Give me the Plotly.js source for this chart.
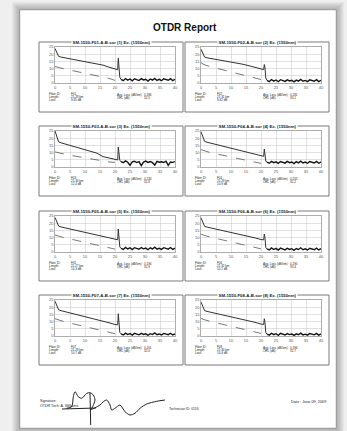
<!DOCTYPE html>
<html><head><meta charset="utf-8">
<script src="https://cdn.plot.ly/plotly-3.0.1.min.js"></script>
<style>html,body{margin:0;padding:0;background:#f0f0f0}#chart{width:347px;height:431px}</style>
</head><body><div id="chart"></div>
<script>
const W = 347, H = 431;

// ---------- data ----------
const panelTitles = [
  "SM-1550-F01-A-B.sor (1) Ex. (1550nm)",
  "SM-1550-F02-A-B.sor (2) Ex. (1550nm)",
  "SM-1550-F03-A-B.sor (3) Ex. (1550nm)",
  "SM-1550-F04-A-B.sor (4) Ex. (1550nm)",
  "SM-1550-F05-A-B.sor (5) Ex. (1550nm)",
  "SM-1550-F06-A-B.sor (6) Ex. (1550nm)",
  "SM-1550-F07-A-B.sor (7) Ex. (1550nm)",
  "SM-1550-F08-A-B.sor (8) Ex. (1550nm)"
];
const xTicks = [0, 5, 10, 15, 20, 25, 30, 35, 40];
const yTicks = [0, 5, 10, 15, 20, 25];

const mainKm = [0, 0.4, 1.2, 2, 4, 6, 8, 10, 12, 14, 16, 18, 20, 20.9, 21.1, 21.3, 21.6, 22];
const mainDb1 = [24, 22, 18.5, 18, 17.2, 16.5, 15.8, 15, 14.3, 13.6, 12.4, 11, 9.5, 9.2, 17.2, 12, 4, 2.5];
const mainDb2 = [23.5, 21.5, 18, 17.5, 16.8, 16, 15.3, 14.6, 13.8, 13, 12, 10.8, 9.6, 9.3, 12.8, 11, 3.5, 1.8];
const mainDb3 = [25, 22, 17.5, 16.8, 15.6, 14.4, 13.2, 12, 10.8, 9.6, 7.2, 6.2, 5.2, 4.9, 13.9, 9, 4.5, 3.8];
const mainDb4 = [24.5, 21.8, 17.8, 17.2, 16.2, 15.2, 14.2, 13.2, 12.2, 11.2, 10.2, 9, 7.8, 7.4, 12.5, 10, 4, 3.4];
const mainDb5 = [24, 21.8, 18, 17.4, 16.5, 15.6, 14.7, 13.8, 12.9, 12, 11, 10, 8.8, 8.5, 16, 11, 3.5, 2.6];
const mainDb6 = [23.8, 21.6, 17.8, 17.3, 16.4, 15.5, 14.6, 13.7, 12.8, 11.9, 10.9, 9.8, 8.7, 8.4, 12.5, 10.5, 3, 2.2];
const mainDb7 = [24.2, 22, 18.2, 17.6, 16.6, 15.6, 14.6, 13.6, 12.6, 11.6, 10.4, 9.2, 8, 7.7, 15.5, 10, 2.5, 1.5];
const mainDb8 = [23.6, 21.5, 17.6, 17.1, 16.2, 15.3, 14.4, 13.5, 12.6, 11.7, 10.6, 9.5, 8.3, 8, 12, 10, 2.2, 1.3];

const lowKm = [0, 1, 3, 6, 9, 12, 15, 18, 20];
const lowDb1 = [11.5, 10.8, 9.8, 8.5, 7.2, 5.9, 4.6, 3.2, 1.8];
const lowDb2 = [14, 12.8, 11.4, 9.8, 8.2, 6.6, 4.9, 3.4, 2.4];
const lowDb3 = [10.5, 9.9, 9, 7.8, 6.6, 5.4, 4.2, 3.5, 3.2];
const lowDb4 = [12, 11.2, 10.1, 8.7, 7.3, 5.9, 4.5, 3.3, 2.5];
const lowDb5 = [11.8, 11, 9.9, 8.6, 7.2, 5.8, 4.4, 3, 2];
const lowDb6 = [12.5, 11.6, 10.4, 9, 7.5, 6, 4.6, 3.2, 2.2];
const lowDb7 = [12, 11.2, 10, 8.5, 7, 5.5, 4, 2.6, 1.6];
const lowDb8 = [12.3, 11.4, 10.2, 8.7, 7.2, 5.7, 4.2, 2.8, 1.8];

const noiseKm = [22, 22.75, 23.5, 24.25, 25, 25.75, 26.5, 27.25, 28, 28.75, 29.5, 30.25, 31, 31.75, 32.5, 33.25, 34, 34.75, 35.5, 36.25, 37, 37.75, 38.5, 39.25, 40];
const noiseDb1 = [2.5, 1.6, 3.1, 2.0, 2.8, 1.5, 2.9, 2.2, 1.7, 3.0, 2.1, 2.6, 1.4, 2.8, 2.0, 3.2, 1.8, 2.5, 1.6, 2.9, 2.2, 1.9, 3.0, 1.7, 2.6];
const noiseDb2 = [1.8, 1.0, 2.4, 1.3, 2.1, 0.9, 2.3, 1.5, 1.1, 2.2, 1.4, 1.9, 0.8, 2.0, 1.3, 2.5, 1.2, 1.8, 1.0, 2.2, 1.5, 1.2, 2.3, 1.0, 1.9];
const noiseDb3 = [3.8, 3.0, 4.2, 3.3, 1.2, 3.6, 4.0, 3.1, 3.7, 1.0, 3.4, 4.1, 3.2, 3.8, 3.0, 1.3, 3.9, 3.3, 3.6, 3.1, 4.0, 1.1, 3.5, 3.2, 3.8];
const noiseDb4 = [3.4, 2.6, 3.9, 3.0, 3.6, 2.5, 3.8, 3.1, 2.7, 3.9, 3.0, 3.5, 2.4, 3.7, 2.9, 4.0, 2.8, 3.4, 2.6, 3.8, 3.1, 2.8, 3.9, 2.6, 3.5];
const noiseDb5 = [2.6, 1.8, 3.2, 2.1, 2.9, 1.7, 3.0, 2.3, 1.9, 3.1, 2.2, 2.7, 1.6, 2.9, 2.1, 3.3, 2.0, 2.6, 1.8, 3.0, 2.3, 2.0, 3.1, 1.8, 2.7];
const noiseDb6 = [2.2, 1.4, 2.8, 1.7, 2.5, 1.3, 2.7, 1.9, 1.5, 2.6, 1.8, 2.3, 1.2, 2.4, 1.7, 2.9, 1.6, 2.2, 1.4, 2.6, 1.9, 1.6, 2.7, 1.4, 2.3];
const noiseDb7 = [1.4, 0.7, 2.0, 1.0, 1.7, 0.6, 1.9, 1.2, 0.8, 1.8, 1.1, 1.5, 0.5, 1.6, 1.0, 2.1, 0.9, 1.4, 0.7, 1.8, 1.2, 0.9, 1.9, 0.7, 1.5];
const noiseDb8 = [1.3, 0.6, 1.9, 0.9, 1.6, 0.5, 1.8, 1.1, 0.7, 1.7, 1.0, 1.4, 0.4, 1.5, 0.9, 2.0, 0.8, 1.3, 0.6, 1.7, 1.1, 0.8, 1.8, 0.6, 1.4];

const infoLabels = ["Fiber ID:", "Length:", "Loss:"];
const infoValues = [
  ["F01", "21.28 km", "9.85 dB"], ["F02", "21.31 km", "9.62 dB"],
  ["F03", "21.30 km", "12.4 dB"], ["F04", "21.29 km", "10.9 dB"],
  ["F05", "21.27 km", "10.3 dB"], ["F06", "21.32 km", "10.1 dB"],
  ["F07", "21.28 km", "10.7 dB"], ["F08", "21.30 km", "10.4 dB"]
];
const summaryLabels = ["Avg. Loss (dB/km):", "ORL (dB):"];
const summaryValues = [
  ["0.186", "32.5"], ["0.181", "33.1"], ["0.234", "31.8"], ["0.205", "32.2"],
  ["0.194", "32.9"], ["0.190", "33.4"], ["0.201", "32.0"], ["0.196", "32.7"]
];

const sigX = [66.7, 71.7, 73.3, 75, 78.3, 81.7, 86.7, 90, 93.3, 95, 91.7, 90, 100, 103.3, 106.7, 110, 111.7, 115, 120, 125, 130, 135, 140, 146.7, 156.7, 165, null, 90, 90.7, null, 62, 96];
const sigY = [408.3, 406.7, 396.7, 391.7, 396.7, 398.3, 393.3, 392.7, 395, 400, 408.3, 410, 405, 401.7, 400, 405, 410, 408.3, 405, 411.7, 415, 413.3, 408.3, 404, 401.3, 400, null, 393, 425, null, 409, 408];

// ---------- layout helpers ----------
const FONT = "Liberation Sans, Arial, sans-serif";
const X = p => p / W;
const Y = p => 1 - p / H;
const colL = [39, 185];
const rowT = [42, 126, 211, 295];
const mainDb = [mainDb1, mainDb2, mainDb3, mainDb4, mainDb5, mainDb6, mainDb7, mainDb8];
const lowDb = [lowDb1, lowDb2, lowDb3, lowDb4, lowDb5, lowDb6, lowDb7, lowDb8];
const noiseDb = [noiseDb1, noiseDb2, noiseDb3, noiseDb4, noiseDb5, noiseDb6, noiseDb7, noiseDb8];

const traces = [];
const shapes = [];
const annotations = [];
const layout = {
  width: W, height: H,
  margin: {l: 0, r: 0, t: 0, b: 0},
  paper_bgcolor: "#efefef",
  plot_bgcolor: "rgba(0,0,0,0)",
  showlegend: false,
  font: {family: FONT}
};

function note(px, py, text, size, anchor, extra) {
  annotations.push(Object.assign({
    xref: "paper", yref: "paper", x: X(px), y: Y(py), showarrow: false,
    xanchor: anchor || "left", yanchor: "middle", text: text,
    font: {size: size, color: "#222", family: FONT}
  }, extra || {}));
}

// page shadow + page
for (let k = 8; k >= 1; k--) {
  shapes.push({type: "rect", xref: "paper", yref: "paper", layer: "below",
    x0: X(20 - k), x1: X(336 + k), y0: Y(428 + k), y1: Y(10 - k),
    fillcolor: "rgba(0,0,0,0.035)", line: {width: 0}});
}
shapes.push({type: "rect", xref: "paper", yref: "paper", layer: "below",
  x0: X(20), x1: X(336), y0: Y(428), y1: Y(10),
  fillcolor: "#ffffff", line: {color: "rgba(0,0,0,0.3)", width: 0.6}});

note(185, 28, "<b>OTDR Report</b>", 10, "center", {font: {size: 10, color: "#111", family: FONT}});

for (let i = 0; i < 8; i++) {
  const col = i % 2, row = Math.floor(i / 2);
  const L = colL[col], T = rowT[row];
  const n = i + 1;
  const xa = "x" + (n === 1 ? "" : n), ya = "y" + (n === 1 ? "" : n);
  const axisCommon = {
    showgrid: true, gridcolor: "#c4c4c4", gridwidth: 0.5,
    showline: true, mirror: true, linecolor: "#8a8a8a", linewidth: 0.7,
    zeroline: false, ticks: "", fixedrange: true,
    tickfont: {size: 4, color: "#555", family: FONT}
  };
  layout["xaxis" + (n === 1 ? "" : n)] = Object.assign({}, axisCommon, {
    domain: [X(L + 16), X(L + 136)], range: [0, 40],
    tickvals: xTicks, ticktext: xTicks.map(String), anchor: ya
  });
  layout["yaxis" + (n === 1 ? "" : n)] = Object.assign({}, axisCommon, {
    domain: [Y(T + 41), Y(T + 5)], range: [0, 25],
    tickvals: yTicks, ticktext: yTicks.map(String), anchor: xa
  });

  traces.push({x: lowKm, y: lowDb[i], xaxis: xa, yaxis: ya, mode: "lines",
    line: {color: "#555", width: 0.8, dash: "dash"}, hoverinfo: "skip"});
  traces.push({x: mainKm, y: mainDb[i], xaxis: xa, yaxis: ya, mode: "lines",
    line: {color: "#333", width: 1.0}, hoverinfo: "skip"});
  traces.push({x: noiseKm, y: noiseDb[i], xaxis: xa, yaxis: ya, mode: "lines",
    line: {color: "#151515", width: 1.4}, hoverinfo: "skip"});

  // panel box
  shapes.push({type: "rect", xref: "paper", yref: "paper", layer: "below",
    x0: X(L), x1: X(L + 144), y0: Y(T + 70), y1: Y(T),
    line: {color: "#7a7a7a", width: 1}, fillcolor: "rgba(0,0,0,0)"});

  note(L + 72, T, "<b>" + panelTitles[i] + "</b>", 4.3, "center",
    {bgcolor: "#ffffff", borderpad: 0.6, font: {size: 4.3, color: "#1a1a1a", family: FONT}});

  infoLabels.forEach((t, k) => {
    note(L + 8, T + 52 + k * 3, t, 3.0);
    note(L + 30, T + 52 + k * 3, infoValues[i][k], 3.0);
  });
  summaryLabels.forEach((t, k) => {
    note(L + 76, T + 53 + k * 3, t, 3.0);
    note(L + 103, T + 53 + k * 3, summaryValues[i][k], 3.0);
  });
}

// signature overlay axis
layout.xaxis9 = {domain: [0, 1], range: [0, W], visible: false, fixedrange: true, anchor: "y9"};
layout.yaxis9 = {domain: [0, 1], range: [H, 0], visible: false, fixedrange: true, anchor: "x9"};
traces.push({x: sigX, y: sigY, xaxis: "x9", yaxis: "y9", mode: "lines",
  line: {color: "#222", width: 1, shape: "spline", smoothing: 0.8}, connectgaps: false, hoverinfo: "skip"});

note(38, 401, "Signature:", 3.6);
note(38, 406, "OTDR Tech: A. Williams", 3.6);
note(167, 409, "Technician ID: 0116", 3.4);
note(328, 402, "Date : June 09, 2009", 3.8, "right");

layout.shapes = shapes;
layout.annotations = annotations;
Plotly.newPlot("chart", traces, layout, {staticPlot: true, displayModeBar: false});
</script>
</body></html>
